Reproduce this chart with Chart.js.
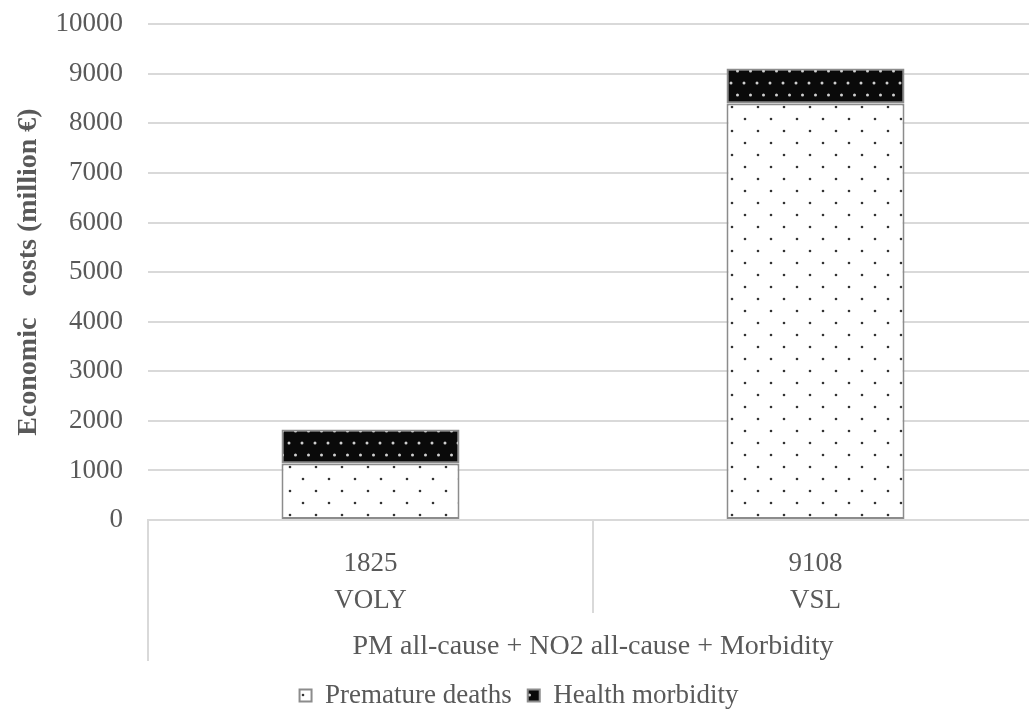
<!DOCTYPE html>
<html><head><meta charset="utf-8">
<script src="https://cdn.jsdelivr.net/npm/chart.js@4/dist/chart.umd.min.js"></script>
<style>html,body{margin:0;padding:0;background:#fff;overflow:hidden;}#wrap{width:1029px;height:713px;overflow:hidden;position:relative;}#c{position:absolute;left:0;top:-17px;}</style>
</head><body><div id="wrap"><canvas id="c" width="1038" height="736"></canvas></div>
<script>
const categories = ["VOLY", "VSL"];
const totals = ["1825", "9108"];
const groupLabel = "PM all-cause + NO2 all-cause + Morbidity";
const prematureDeaths = [1140, 8400];
const healthMorbidity = [685, 708];
const seriesNames = ["Premature deaths", "Health morbidity"];
const yTitle = "Economic   costs (million €)";

function makePattern(bg, dot, w, h, pts, r) {
  const c = document.createElement('canvas');
  c.width = w; c.height = h;
  const x = c.getContext('2d');
  x.fillStyle = bg; x.fillRect(0, 0, w, h);
  x.fillStyle = dot;
  pts.forEach(p => { x.beginPath(); x.arc(p[0], p[1], r, 0, Math.PI * 2); x.fill(); });
  return x.createPattern(c, 'repeat');
}
const ctx = document.getElementById('c').getContext('2d');
const whitePat = makePattern('#ffffff', '#333333', 26, 24, [[4, 4], [17, 16]], 1.3);
const blackPat = makePattern('#0a0a0a', '#d0d0d0', 13, 24, [[3, 4], [9.5, 16]], 1.5);

const FONT = "'Liberation Serif', 'Times New Roman', serif";
const GREY = '#595959';
const FS = 27;

const groupPlugin = {
  id: 'groupPlugin',
  afterDraw(chart) {
    const c = chart.ctx;
    const xs = chart.scales.x;
    const area = chart.chartArea;
    c.save();
    c.strokeStyle = '#d9d9d9';
    c.lineWidth = 2;
    c.beginPath(); c.moveTo(xs.left, area.bottom); c.lineTo(xs.left, area.bottom + 141); c.stroke();
    const mid = (xs.getPixelForValue(0) + xs.getPixelForValue(1)) / 2;
    c.beginPath(); c.moveTo(mid, area.bottom); c.lineTo(mid, area.bottom + 93); c.stroke();
    c.fillStyle = GREY;
    c.font = "28px " + FONT;
    c.textAlign = 'center'; c.textBaseline = 'middle';
    c.fillText(groupLabel, (xs.left + xs.right) / 2, area.bottom + 127);
    c.restore();
  }
};

new Chart(ctx, {
  type: 'bar',
  data: {
    labels: categories.map((c, i) => [totals[i], c]),
    datasets: [
      { label: seriesNames[0], data: prematureDeaths, backgroundColor: whitePat, borderColor: '#8c8c8c', borderWidth: 2, borderSkipped: false, barPercentage: 0.8, categoryPercentage: 0.5 },
      { label: seriesNames[1], data: healthMorbidity, backgroundColor: blackPat, borderColor: '#8c8c8c', borderWidth: 2, borderSkipped: false, barPercentage: 0.8, categoryPercentage: 0.5 }
    ]
  },
  options: {
    responsive: false,
    animation: false,
    layout: { padding: { top: 0, right: 0, left: 0, bottom: 0 } },
    plugins: {
      legend: {
        position: 'bottom',
        labels: {
          color: GREY, font: { family: FONT, size: FS },
          boxWidth: 12, boxHeight: 12, padding: 16
        }
      },
      tooltip: { enabled: false }
    },
    scales: {
      x: {
        stacked: true,
        grid: { display: false, drawTicks: false },
        border: { display: true, color: '#d9d9d9', width: 2 },
        ticks: { color: GREY, font: { family: FONT, size: FS, lineHeight: 1.37 }, padding: 25, maxRotation: 0 },
        afterFit(s) { s.height = 146; }
      },
      y: {
        stacked: true,
        min: 0, max: 10000,
        ticks: { stepSize: 1000, color: GREY, font: { family: FONT, size: FS }, padding: 25, callback: v => String(v) },
        grid: { color: '#d9d9d9', lineWidth: 2, drawTicks: false },
        border: { display: false },
        title: { display: true, text: yTitle, color: GREY, font: { family: FONT, size: 28, weight: 'bold' }, padding: { top: 12, bottom: 4 } },
        afterFit(s) { s.width = 148; }
      }
    }
  },
  plugins: [groupPlugin]
});
</script></body></html>
